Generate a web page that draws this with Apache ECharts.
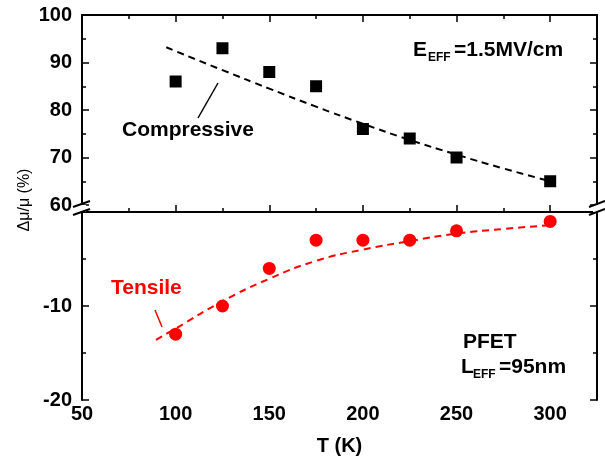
<!DOCTYPE html>
<html>
<head>
<meta charset="utf-8">
<script src="https://cdn.jsdelivr.net/npm/echarts@6/dist/echarts.min.js"></script>
<style>html,body{margin:0;padding:0;background:#fff;}#c{width:605px;height:461px;}</style>
</head>
<body>
<div id="c"></div>
<script>
// Data
var temps = [100, 125, 150, 175, 200, 225, 250, 300];
var compressive = [86, 93, 88, 85, 76, 74, 70, 65];
var tensile = [-13, -10, -6, -3, -3, -3, -2, -1];
var compFitT = [95, 125, 150, 175, 200, 225, 250, 275, 300];
var compFit = [93.2, 88.4, 84.5, 80.7, 77.1, 73.7, 70.6, 67.7, 65.0];
var tensFitT = [89.5, 100, 125, 150, 175, 200, 225, 250, 275, 300];
var tensFit = [-13.6, -12.4, -9.5, -7.1, -5.2, -4.0, -3.1, -2.3, -1.8, -1.4];
var xTicks = [50, 100, 150, 200, 250, 300];
var yTicksUpper = [60, 70, 80, 90, 100];
var yTicksLower = [-20, -10];

function pairs(xs, ys) { return xs.map(function (x, i) { return [x, ys[i]]; }); }

var FONT = 'Liberation Sans, Arial, sans-serif';
var RED = '#ff0000';
var lineStyle = { color: '#000', width: 2 };

function xAxisDef(grid, pos, major, labels) {
  return {
    type: 'value', gridIndex: grid, position: pos, min: 50, max: 325,
    interval: major ? 50 : 25,
    axisLine: { show: major, lineStyle: lineStyle },
    axisTick: { show: true, inside: true, length: major ? 7 : 4, lineStyle: { color: '#000', width: 1.5 } },
    axisLabel: {
      show: labels, color: '#000', fontSize: 20, fontWeight: 'bold', fontFamily: FONT,
      margin: 4, showMaxLabel: false,
      formatter: function (v) { return xTicks.indexOf(v) >= 0 ? String(v) : ''; }
    },
    splitLine: { show: false },
    name: labels ? 'T (K)' : '',
    nameLocation: 'middle', nameGap: 36,
    nameTextStyle: { color: '#000', fontSize: 20, fontWeight: 'bold', fontFamily: FONT }
  };
}

function yAxisDef(grid, pos, min, max, labels, allowed) {
  return {
    type: 'value', gridIndex: grid, position: pos, min: min, max: max, interval: 10,
    axisLine: { show: true, lineStyle: lineStyle },
    axisTick: { show: true, inside: true, length: 7, lineStyle: { color: '#000', width: 1.5 } },
    minorTick: { show: true, splitNumber: 2, length: 4, lineStyle: { color: '#000', width: 1.5 } },
    axisLabel: {
      show: labels, color: '#000', fontSize: 20, fontWeight: 'bold', fontFamily: FONT, margin: 10,
      formatter: function (v) { return allowed.indexOf(v) >= 0 ? String(v) : ''; }
    },
    splitLine: { show: false }, minorSplitLine: { show: false }
  };
}

function txt(x, y, s, size, color, align) {
  return {
    type: 'text', x: x, y: y, z: 100,
    style: { text: s, fill: color || '#000', fontSize: size, fontWeight: 'bold', fontFamily: FONT,
      align: align || 'left', verticalAlign: 'middle' }
  };
}
function seg(x1, y1, x2, y2, color, w) {
  return { type: 'line', z: 100, shape: { x1: x1, y1: y1, x2: x2, y2: y2 },
    style: { stroke: color || '#000', lineWidth: w || 1.5 } };
}

var chart = echarts.init(document.getElementById('c'), null, { renderer: 'canvas' });
chart.setOption({
  animation: false,
  backgroundColor: '#fff',
  grid: [
    { left: 82, right: 8, top: 15, height: 190, containLabel: false },
    { left: 82, right: 8, top: 212, height: 188, containLabel: false }
  ],
  xAxis: [
    xAxisDef(1, 'bottom', true, true),
    xAxisDef(1, 'bottom', false, false),
    xAxisDef(0, 'top', true, false),
    xAxisDef(0, 'top', false, false)
  ],
  yAxis: [
    yAxisDef(0, 'left', 60, 100, true, yTicksUpper),
    yAxisDef(0, 'right', 60, 100, false, []),
    yAxisDef(1, 'left', -20, 0, true, yTicksLower),
    yAxisDef(1, 'right', -20, 0, false, [])
  ],
  series: [
    { type: 'line', xAxisIndex: 2, yAxisIndex: 0, data: pairs(compFitT, compFit), smooth: true,
      showSymbol: false, symbol: 'none', lineStyle: { color: '#000', width: 2, type: [7, 5] } },
    { type: 'scatter', xAxisIndex: 2, yAxisIndex: 0, data: pairs(temps, compressive),
      symbol: 'rect', symbolSize: 12, itemStyle: { color: '#000', opacity: 1 } },
    { type: 'line', xAxisIndex: 0, yAxisIndex: 2, data: pairs(tensFitT, tensFit), smooth: true,
      showSymbol: false, symbol: 'none', lineStyle: { color: RED, width: 2, type: [7, 5] } },
    { type: 'scatter', xAxisIndex: 0, yAxisIndex: 2, data: pairs(temps, tensile),
      symbol: 'circle', symbolSize: 13, itemStyle: { color: RED, opacity: 1 } }
  ],
  graphic: [
    // axis break marks
    { type: 'rect', z: 90, shape: { x: 78, y: 205, width: 8, height: 7 }, style: { fill: '#fff' } },
    { type: 'rect', z: 90, shape: { x: 593, y: 205, width: 8, height: 7 }, style: { fill: '#fff' } },
    seg(73, 207, 90, 201, '#000', 2), seg(73, 215, 90, 209, '#000', 2),
    seg(589, 207, 605, 201, '#000', 2), seg(589, 215, 605, 209, '#000', 2),
    // y axis name
    { type: 'text', x: 25, y: 200, rotation: Math.PI / 2, z: 100,
      style: { text: 'Δμ/μ (%)', fill: '#000', fontSize: 16, fontFamily: FONT, align: 'center', verticalAlign: 'middle' } },
    // annotations
    txt(122, 130, 'Compressive', 21),
    seg(198, 118, 218, 83, '#000', 1.5),
    txt(111, 288, 'Tensile', 21, RED),
    seg(155, 310, 162, 327, RED, 1.5),
    txt(413, 50, 'E', 21), txt(428, 58, 'EFF', 12), txt(454, 50, '=1.5MV/cm', 21),
    txt(463, 342, 'PFET', 21),
    txt(461, 367, 'L', 21), txt(473, 375, 'EFF', 12), txt(499, 367, '=95nm', 21)
  ]
});
</script>
</body>
</html>
